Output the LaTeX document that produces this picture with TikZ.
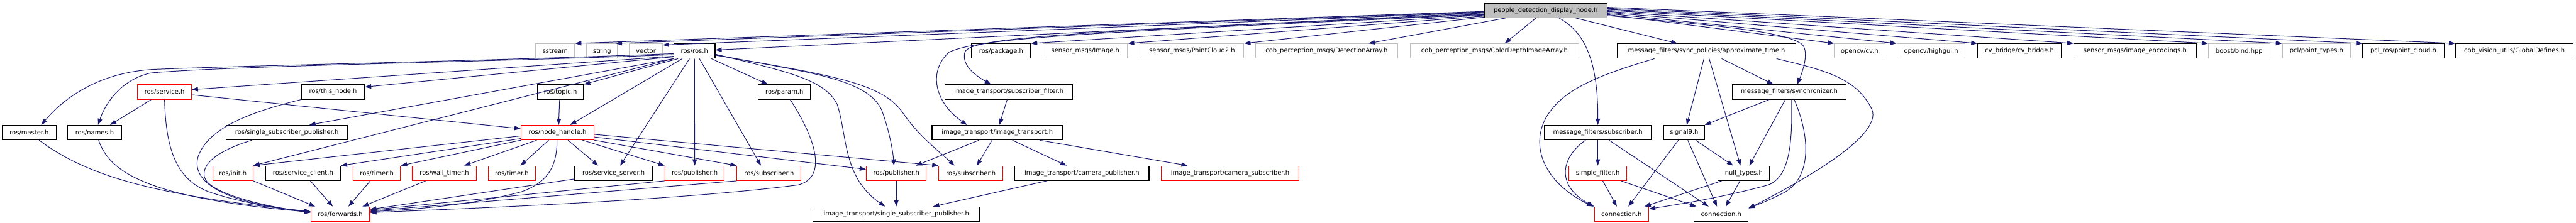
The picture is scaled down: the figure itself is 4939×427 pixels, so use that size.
\documentclass[tikz,border=0pt]{standalone}
\usepackage{fontspec}
\setmainfont{DejaVu Sans}
\usetikzlibrary{arrows.meta}
\definecolor{edgec}{HTML}{191970}
\definecolor{grayb}{HTML}{BFBFBF}
\definecolor{rootf}{HTML}{BFBFBF}
\definecolor{redb}{HTML}{FF0000}
\tikzset{
  nb/.style={draw=black, fill=white, line width=1.3pt, minimum height=28pt, inner sep=0pt,
    font=\fontsize{12}{14}\selectfont},
  nr/.style={nb, draw=redb},
  ng/.style={nb, draw=grayb},
  nroot/.style={nb, fill=rootf},
  e/.style={draw=edgec, line width=1.2pt, -{Triangle[length=12pt,width=8.5pt]}}
}
\newcommand\mk[5]{\node[#1,minimum width=#2pt] (#3) at (#4) {#5};}
\begin{document}
\begin{tikzpicture}[x=1pt,y=-1pt]
\fill[white] (0,0) rectangle (4939,427);
\useasboundingbox (0,0) rectangle (4939,427);
% row 0
\mk{nroot}{235}{root}{2963.5,20}{people\_detection\_display\_node.h}
% row 1
\mk{ng}{75}{sstream}{1064.5,98}{sstream}
\mk{ng}{59}{string}{1154.5,98}{string}
\mk{ng}{63}{vector}{1238.5,98}{vector}
\mk{nb}{79}{rosros}{1331.5,98}{ros/ros.h}
\mk{nb}{113}{package}{1919.5,98}{ros/package.h}
\mk{ng}{162}{simage}{2081,98}{sensor\_msgs/Image.h}
\mk{ng}{199}{pc2}{2285.5,98}{sensor\_msgs/PointCloud2.h}
\mk{ng}{273}{detarr}{2543.5,98}{cob\_perception\_msgs/DetectionArray.h}
\mk{ng}{323}{colordepth}{2865.5,98}{cob\_perception\_msgs/ColorDepthImageArray.h}
\mk{nb}{342}{approx}{3272,98}{message\_filters/sync\_policies/approximate\_time.h}
\mk{ng}{97}{cv}{3565.5,98}{opencv/cv.h}
\mk{ng}{131}{highgui}{3702.5,98}{opencv/highgui.h}
\mk{nb}{160}{cvbridge}{3872,98}{cv\_bridge/cv\_bridge.h}
\mk{nb}{235}{encodings}{4093.5,98}{sensor\_msgs/image\_encodings.h}
\mk{ng}{118}{bind}{4293,98}{boost/bind.hpp}
\mk{ng}{131}{ptypes}{4441.5,98}{pcl/point\_types.h}
\mk{nb}{156}{pclros}{4608,98}{pcl\_ros/point\_cloud.h}
\mk{nb}{226}{globaldef}{4821,98}{cob\_vision\_utils/GlobalDefines.h}
% row 2
\mk{nr}{103}{service}{315.5,176.5}{ros/service.h}
\mk{nb}{121}{thisnode}{638.5,176.5}{ros/this\_node.h}
\mk{nb}{89}{topic}{1074.5,176.5}{ros/topic.h}
\mk{nb}{100}{param}{1504,176.5}{ros/param.h}
\mk{nb}{245}{subfilter}{1934.5,176.5}{image\_transport/subscriber\_filter.h}
\mk{nb}{219}{sync}{3430.5,176.5}{message\_filters/synchronizer.h}
% row 3
\mk{nb}{104}{master}{56,254.5}{ros/master.h}
\mk{nb}{103}{names}{181.5,254.5}{ros/names.h}
\mk{nb}{232}{ssp}{550,254.5}{ros/single\_subscriber\_publisher.h}
\mk{nr}{140}{nodehandle}{1069,254.5}{ros/node\_handle.h}
\mk{nb}{250}{imgtr}{1912,254.5}{image\_transport/image\_transport.h}
\mk{nb}{205}{mfsub}{3063.5,254.5}{message\_filters/subscriber.h}
\mk{nb}{78}{signal9}{3229,254.5}{signal9.h}
% row 4
\mk{nr}{77}{init}{446.5,332.5}{ros/init.h}
\mk{nb}{144}{srvclient}{581,332.5}{ros/service\_client.h}
\mk{nr}{91}{timer1}{722.5,332.5}{ros/timer.h}
\mk{nr}{122}{walltimer}{852,332.5}{ros/wall\_timer.h}
\mk{nr}{91}{timer2}{981.5,332.5}{ros/timer.h}
\mk{nb}{149}{srvserver}{1176.5,332.5}{ros/service\_server.h}
\mk{nr}{114}{pub1}{1332,332.5}{ros/publisher.h}
\mk{nr}{123}{sub1}{1474.5,332.5}{ros/subscriber.h}
\mk{nr}{115}{pub2}{1718.5,332.5}{ros/publisher.h}
\mk{nr}{123}{sub2}{1861.5,332.5}{ros/subscriber.h}
\mk{nb}{257}{campub}{2074.5,332.5}{image\_transport/camera\_publisher.h}
\mk{nr}{265}{camsub}{2358.5,332.5}{image\_transport/camera\_subscriber.h}
\mk{nr}{111}{simplefilter}{3063.5,332.5}{simple\_filter.h}
\mk{nb}{99}{nulltypes}{3343.5,332.5}{null\_types.h}
% row 5
\mk{nr}{113}{forwards}{652.5,411}{ros/forwards.h}
\mk{nb}{319}{itssp}{1718.5,411}{image\_transport/single\_subscriber\_publisher.h}
\mk{nr}{104}{connred}{3109,411}{connection.h}
\mk{nb}{104}{connblack}{3300,411}{connection.h}

% ---- edges from root
\draw[e] ([yshift=-2pt]root.west) -- (sstream.north east);
\draw[e] ([yshift=-3pt]root.west) -- ([xshift=-4pt]string.north east);
\draw[e] ([yshift=-4pt]root.west) -- ([yshift=-3pt]vector.north east);
\draw[e] ([yshift=-5pt]root.west) -- ([yshift=2pt]rosros.east);
\draw[e] ([yshift=-7pt]root.west) .. controls (2100,60) and (1860,70) .. (1850,100) .. controls (1843,125) and (1870,145) .. ([xshift=-34.5pt]subfilter.north);
\draw[e] ([yshift=-8pt]root.west) .. controls (2100,62) and (1880,72) .. (1820,100) .. controls (1780,135) and (1790,195) .. ([xshift=-58pt]imgtr.north);
\draw[e] ([yshift=-9pt]root.west) -- (package.north east);
\draw[e] ([yshift=-11pt]root.west) -- (simage.north east);
\draw[e] ([yshift=-13pt]root.west) -- (pc2.north east);
\draw[e] ([xshift=-76.5pt]root.south) -- ([xshift=80.5pt]detarr.north);
\draw[e] ([xshift=-18.5pt]root.south) -- ([xshift=19.5pt]colordepth.north);
\draw[e] ([xshift=25.5pt]root.south) .. controls (3040,62) and (3064,120) .. (mfsub.north);
\draw[e] ([xshift=57.5pt]root.south) -- ([xshift=-56pt]approx.north);
\draw[e] ([yshift=-10pt]root.east) .. controls (3300,50) and (3420,60) .. (3455,85) .. controls (3470,100) and (3455,140) .. ([xshift=15.5pt]sync.north);
\draw[e] ([yshift=-8pt]root.east) -- (cv.north west);
\draw[e] ([yshift=-6pt]root.east) -- (highgui.north west);
\draw[e] ([yshift=-4pt]root.east) -- (cvbridge.north west);
\draw[e] ([yshift=-2pt]root.east) -- (encodings.north west);
\draw[e] (root.east) -- (bind.north west);
\draw[e] ([yshift=2pt]root.east) -- (ptypes.north west);
\draw[e] ([yshift=4pt]root.east) -- (pclros.north west);
\draw[e] ([yshift=6pt]root.east) -- (globaldef.north west);

% ---- edges from ros/ros.h
\draw[e] ([yshift=-5pt]rosros.west) .. controls (900,118) and (500,125) .. (300,133) .. controls (200,137) and (130,180) .. ([xshift=23pt]master.north);
\draw[e] ([yshift=-7pt]rosros.west) .. controls (900,120) and (450,126) .. (290,140) .. controls (240,150) and (205,190) .. ([xshift=6.5pt]names.north);
\draw[e] ([yshift=-10pt]rosros.west) -- ([yshift=4.5pt]service.east);
\draw[e] ([yshift=-11pt]rosros.west) -- ([yshift=9.5pt]thisnode.east);
\draw[e] (rosros.south west) -- ([xshift=43pt]ssp.north);
\draw[e] (rosros.south west) -- (init.north east);
\draw[e] ([xshift=-31.5pt]rosros.south) -- (topic.north east);
\draw[e] ([xshift=-23.5pt]rosros.south) -- ([xshift=24pt]nodehandle.north);
\draw[e] ([xshift=-9.5pt]rosros.south) -- ([xshift=12.5pt]srvserver.north);
\draw[e] (rosros.south) -- (pub1.north);
\draw[e] ([xshift=9.5pt]rosros.south) -- ([xshift=-15.5pt]sub1.north);
\draw[e] ([xshift=32.5pt]rosros.south) -- ([xshift=-32pt]param.north);
\draw[e] ([yshift=-6pt]rosros.east) .. controls (1500,136) and (1580,150) .. (1605,200) .. controls (1625,260) and (1615,340) .. ([xshift=-21.5pt]itssp.north);
\draw[e] ([yshift=-7pt]rosros.east) .. controls (1550,140) and (1660,150) .. (1690,210) .. controls (1705,250) and (1712,290) .. ([xshift=-4.5pt]pub2.north);
\draw[e] ([yshift=-8pt]rosros.east) .. controls (1600,145) and (1690,160) .. (1730,215) .. controls (1760,260) and (1800,290) .. ([xshift=-31.5pt]sub2.north);

% ---- ros/service.h, this_node, ssp, master, names
\draw[e] ([xshift=-25.5pt]service.south) -- ([xshift=29.5pt]names.north);
\draw[e] (service.south) .. controls (318,290) and (340,345) .. (400,368) .. controls (470,392) and (550,402) .. ([yshift=4pt]forwards.west);
\draw[e] ([yshift=-5.5pt]service.east) -- ([yshift=7.5pt]nodehandle.west);
\draw[e] (thisnode.south west) .. controls (480,215) and (400,245) .. (380,300) .. controls (365,350) and (430,390) .. ([yshift=5pt]forwards.west);
\draw[e] ([xshift=-67pt]ssp.south) .. controls (430,285) and (385,310) .. (392,340) .. controls (400,370) and (500,395) .. ([yshift=3pt]forwards.west);
\draw[e] ([xshift=19pt]master.south) .. controls (170,340) and (300,375) .. ([yshift=5pt]forwards.west);
\draw[e] ([xshift=7.5pt]names.south) .. controls (210,330) and (280,380) .. ([yshift=4pt]forwards.west);

% ---- row 4 to forwards
\draw[e] (init.south east) -- ([xshift=9pt]forwards.north west);
\draw[e] ([xshift=14pt]srvclient.south) -- ([xshift=-14.5pt]forwards.north);
\draw[e] ([xshift=-12.5pt]timer1.south) -- ([xshift=15.5pt]forwards.north);
\draw[e] ([xshift=-36pt]walltimer.south) -- ([xshift=42.5pt]forwards.north);
\draw[e] ([xshift=-1pt]nodehandle.south) .. controls (1068,320) and (1050,350) .. (1000,368) .. controls (900,395) and (780,403) .. ([yshift=5pt]forwards.east);
\draw[e] ([yshift=-11pt]srvserver.west) -- ([yshift=9pt]forwards.east);
\draw[e] (pub1.south west) -- ([yshift=8pt]forwards.east);
\draw[e] (sub1.south west) -- ([yshift=6pt]forwards.east);
\draw[e] ([xshift=11pt]param.south) .. controls (1560,260) and (1590,340) .. (1530,355) .. controls (1300,385) and (900,400) .. ([yshift=3pt]forwards.east);

% ---- ros/node_handle.h
\draw[e] ([yshift=-6.5pt]nodehandle.west) -- (init.north east);
\draw[e] ([yshift=-11.5pt]nodehandle.west) -- (srvclient.north east);
\draw[e] (nodehandle.south west) -- (timer1.north east);
\draw[e] ([xshift=-40pt]nodehandle.south) -- ([xshift=38pt]walltimer.north);
\draw[e] ([xshift=-17pt]nodehandle.south) -- ([xshift=16.5pt]timer2.north);
\draw[e] ([xshift=20pt]nodehandle.south) -- ([xshift=-29.5pt]srvserver.north);
\draw[e] ([xshift=48pt]nodehandle.south) -- (pub1.north west);
\draw[e] (nodehandle.south east) -- (sub1.north west);
\draw[e] ([yshift=-8.5pt]nodehandle.east) -- ([yshift=7.5pt]pub2.west);
\draw[e] ([yshift=-3.5pt]nodehandle.east) -- (sub2.north west);
\draw[e] ([xshift=-1.5pt]topic.south) -- ([xshift=2pt]nodehandle.north);

% ---- image_transport
\draw[e] (pub2.south) -- (itssp.north);
\draw[e] ([xshift=-67.5pt]campub.south) -- ([xshift=70.5pt]itssp.north);
\draw[e] ([xshift=-35pt]imgtr.south) -- ([xshift=37.5pt]pub2.north);
\draw[e] ([xshift=-10pt]imgtr.south) -- ([xshift=11.5pt]sub2.north);
\draw[e] ([xshift=29pt]imgtr.south) -- ([xshift=-29.5pt]campub.north);
\draw[e] ([xshift=81pt]imgtr.south) -- ([xshift=-81.5pt]camsub.north);
\draw[e] ([xshift=-3.5pt]subfilter.south) -- ([xshift=4pt]imgtr.north);

% ---- message_filters
\draw[e] (mfsub.south) -- (simplefilter.north);
\draw[e] ([xshift=-23.5pt]mfsub.south) .. controls (2995,300) and (2980,355) .. (connred.north west);
\draw[e] ([xshift=21.5pt]mfsub.south) -- ([xshift=-24pt]connblack.north);
\draw[e] ([xshift=-100pt]approx.south) .. controls (3080,140) and (3010,165) .. (2975,210) .. controls (2930,265) and (2950,345) .. ([xshift=-2pt]connred.north west);
\draw[e] ([xshift=-5pt]approx.south) -- ([xshift=5pt]signal9.north);
\draw[e] ([xshift=5pt]approx.south) -- ([xshift=-6.5pt]nulltypes.north);
\draw[e] ([xshift=29pt]approx.south) -- ([xshift=-30.5pt]sync.north);
\draw[e] ([xshift=134pt]approx.south) .. controls (3500,135) and (3560,150) .. (3589,210) .. controls (3610,260) and (3460,345) .. ([yshift=11pt]connblack.east);
\draw[e] ([xshift=-38.5pt]sync.south) -- (signal9.north east);
\draw[e] ([xshift=-7.5pt]sync.south) -- ([xshift=10.5pt]nulltypes.north);
\draw[e] ([xshift=4.5pt]sync.south) .. controls (3437,280) and (3430,340) .. (3390,355) .. controls (3300,380) and (3200,395) .. ([yshift=10pt]connred.east);
\draw[e] ([xshift=9.5pt]sync.south) .. controls (3470,260) and (3475,340) .. (3420,370) .. controls (3390,385) and (3370,393) .. ([yshift=12pt]connblack.east);
\draw[e] ([xshift=-11pt]signal9.south) -- ([xshift=13pt]connred.north);
\draw[e] ([xshift=7pt]signal9.south) -- ([xshift=-8pt]connblack.north);
\draw[e] ([xshift=22pt]signal9.south) -- ([xshift=-20.5pt]nulltypes.north);
\draw[e] ([xshift=-42.5pt]nulltypes.south) -- ([xshift=44pt]connred.north);
\draw[e] ([xshift=-7.5pt]nulltypes.south) -- ([xshift=9pt]connblack.north);
\draw[e] ([xshift=9.5pt]simplefilter.south) -- ([xshift=-9pt]connred.north);
\draw[e] ([xshift=44.5pt]simplefilter.south) -- ([xshift=5pt]connblack.north west);
\end{tikzpicture}
\end{document}
